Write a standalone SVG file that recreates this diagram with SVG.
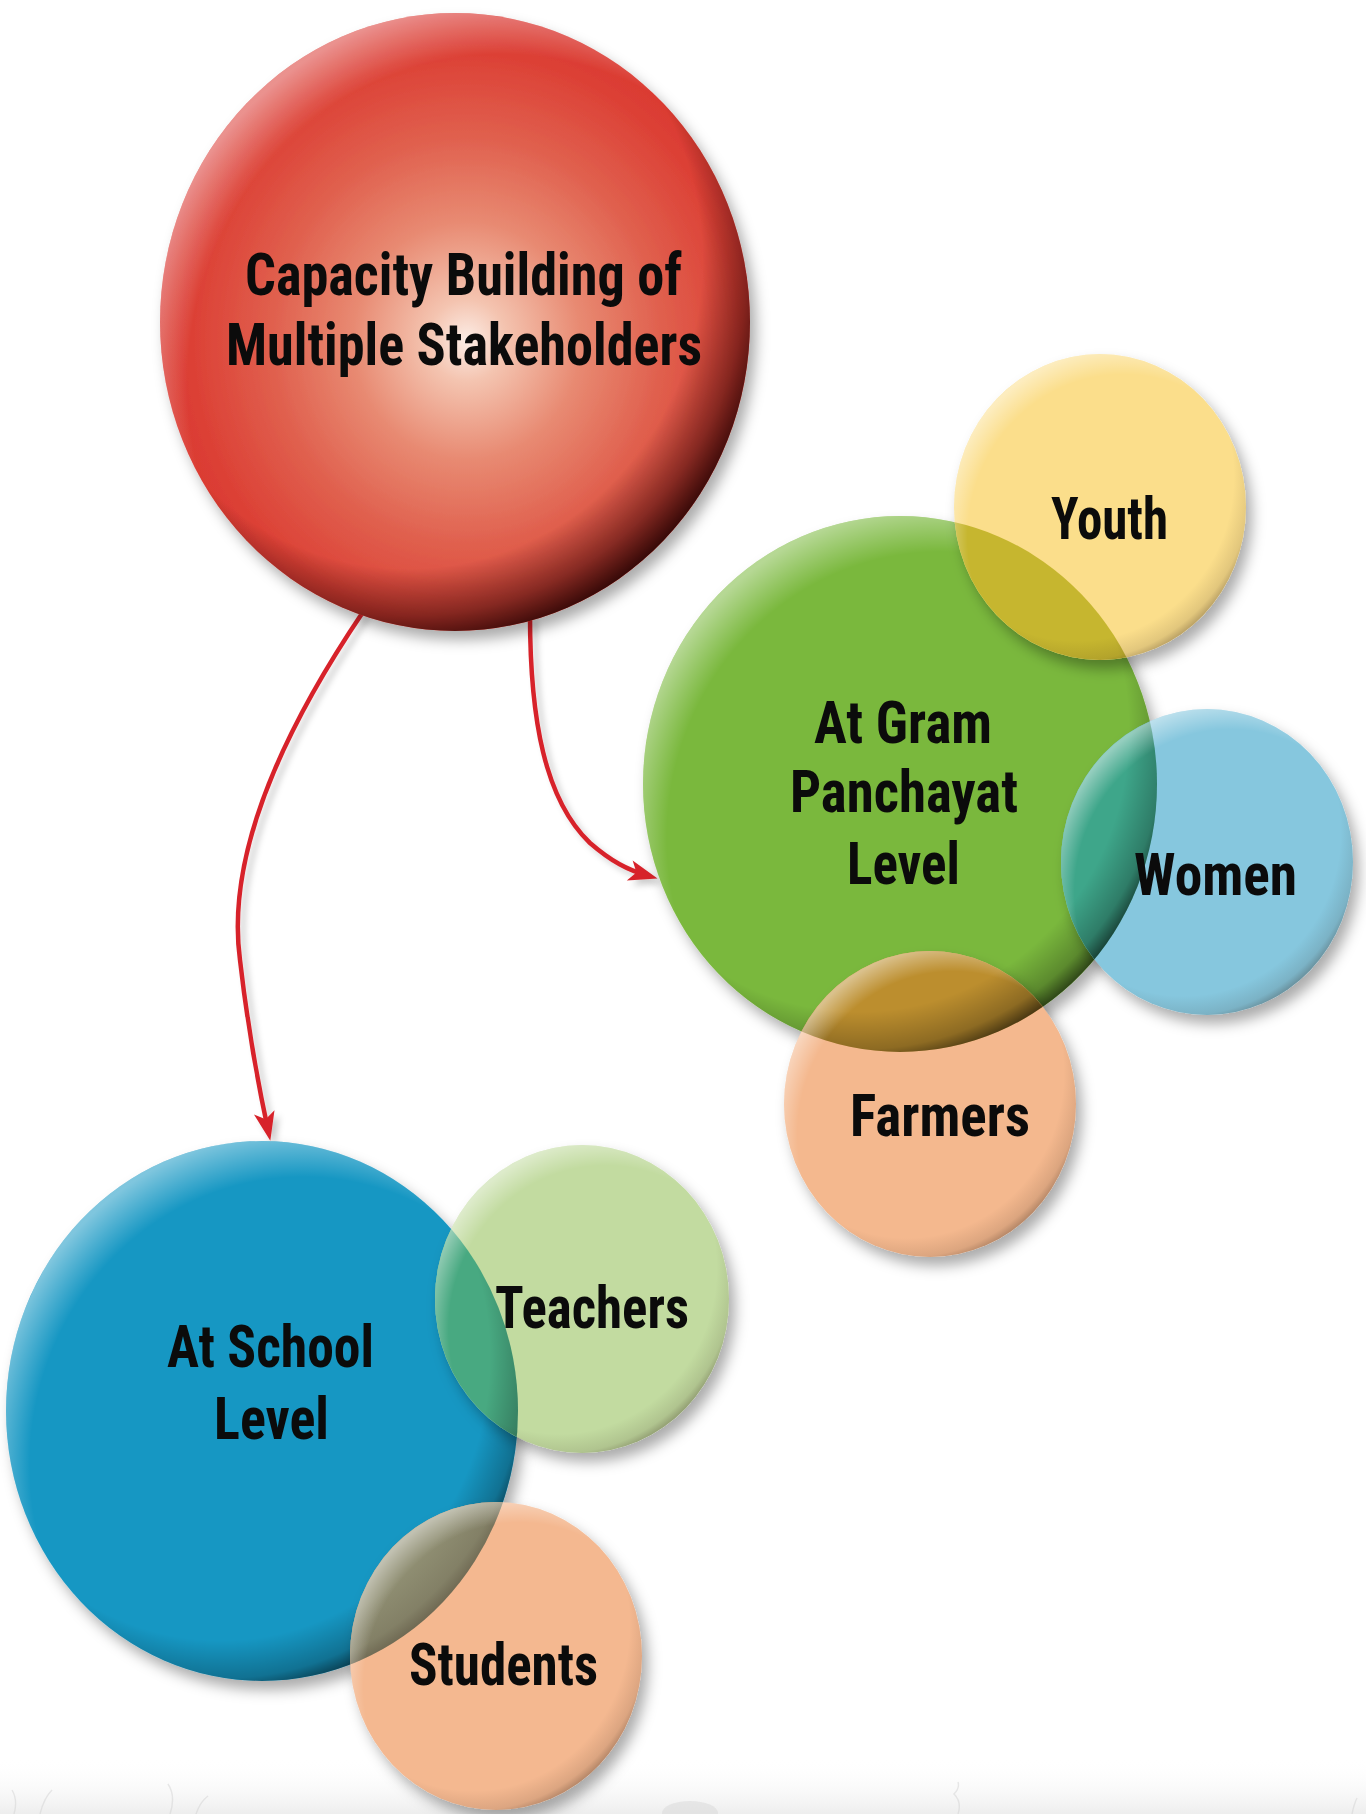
<svg xmlns="http://www.w3.org/2000/svg" width="1366" height="1814" viewBox="0 0 1366 1814">
<defs>
<style>
.lbl{font-family:"Liberation Sans Narrow","Roboto Condensed","DejaVu Sans Condensed","Liberation Sans",Arial,sans-serif;font-weight:bold;font-stretch:condensed;font-size:60px;fill:#0b0b0b}
.conn{fill:none;stroke:#D7232B;stroke-width:4.5;marker-end:url(#arrow)}
.sh{filter:url(#sh)}
.rimD{fill:url(#rimDark)}
.rimS{fill:url(#rimSoft)}
.rimL{fill:url(#rimLight)}
.grass{fill:none;stroke:#cfcfcf;stroke-width:1.4;opacity:0.45}
</style>
<filter id="sh" x="-20%" y="-20%" width="150%" height="150%">
<feDropShadow dx="6" dy="9" stdDeviation="7" flood-color="#000" flood-opacity="0.33"/>
</filter>
<filter id="lsh" x="-20%" y="-20%" width="150%" height="150%">
<feDropShadow dx="5" dy="5" stdDeviation="3" flood-color="#000" flood-opacity="0.2"/>
</filter>
<marker id="arrow" viewBox="-32 -13 36 26" refX="-8" refY="0" markerWidth="36" markerHeight="26" markerUnits="userSpaceOnUse" orient="auto">
<path d="M3 0 L-26 -10.5 L-19 0 L-26 10.5 Z" fill="#D7232B"/>
</marker>
<radialGradient id="gRed" cx="0.52" cy="0.53" r="0.55">
<stop offset="0" stop-color="#FCEDE6"/>
<stop offset="0.12" stop-color="#F4C4B0"/>
<stop offset="0.35" stop-color="#E88A72"/>
<stop offset="0.6" stop-color="#E0604E"/>
<stop offset="0.85" stop-color="#DC4035"/>
<stop offset="1" stop-color="#D93530"/>
</radialGradient>
<radialGradient id="rimRed" cx="0.42" cy="0.40" r="0.64">
<stop offset="0.78" stop-color="#1a0000" stop-opacity="0"/>
<stop offset="0.9" stop-color="#1a0000" stop-opacity="0.45"/>
<stop offset="1" stop-color="#1a0000" stop-opacity="0.95"/>
</radialGradient>
<radialGradient id="rimDark" cx="0.42" cy="0.40" r="0.64">
<stop offset="0.82" stop-color="#000" stop-opacity="0"/>
<stop offset="0.93" stop-color="#000" stop-opacity="0.25"/>
<stop offset="1" stop-color="#000" stop-opacity="0.75"/>
</radialGradient>
<radialGradient id="rimSoft" cx="0.42" cy="0.40" r="0.64">
<stop offset="0.84" stop-color="#2a1a10" stop-opacity="0"/>
<stop offset="0.94" stop-color="#2a1a10" stop-opacity="0.12"/>
<stop offset="1" stop-color="#2a1a10" stop-opacity="0.4"/>
</radialGradient>
<radialGradient id="rimLight" cx="0.58" cy="0.60" r="0.62">
<stop offset="0.86" stop-color="#fff" stop-opacity="0"/>
<stop offset="1" stop-color="#fff" stop-opacity="0.45"/>
</radialGradient>
<linearGradient id="gGround" x1="0" y1="0" x2="0" y2="1">
<stop offset="0" stop-color="#fff" stop-opacity="0"/>
<stop offset="1" stop-color="#e2e2e2" stop-opacity="0.6"/>
</linearGradient>
<clipPath id="cYouth"><ellipse cx="1100" cy="507" rx="146" ry="153"/></clipPath>
<clipPath id="cWomen"><ellipse cx="1207" cy="862" rx="146" ry="153"/></clipPath>
<clipPath id="cFarmers"><ellipse cx="930" cy="1104" rx="146" ry="153"/></clipPath>
<clipPath id="cTeachers"><ellipse cx="582" cy="1299" rx="147" ry="154"/></clipPath>
<clipPath id="cStudents"><ellipse cx="496" cy="1656" rx="146" ry="154"/></clipPath>
</defs>

<rect x="0" y="0" width="1366" height="1814" fill="#ffffff"/>

<g id="ground">
<rect x="0" y="1758" width="1366" height="56" fill="url(#gGround)"/>
<path class="grass" d="M14 1814 Q18 1800 12 1790 M40 1814 Q44 1798 52 1790 M170 1814 Q176 1796 168 1784 M196 1814 Q200 1802 208 1796 M958 1814 Q962 1802 954 1794 Q960 1788 958 1782 M1352 1814 Q1354 1804 1357 1798"/>
<ellipse cx="690" cy="1813" rx="28" ry="12" fill="#d4d4d4" opacity="0.45"/>
</g>

<g id="connectors" filter="url(#lsh)">
<path class="conn" d="M363 612 C290 720 225 850 240 960 C248 1030 259 1088 268 1130"/>
<path class="conn" d="M530 615 C530 720 545 800 590 843 C612 862 628 870 647 875.5"/>
</g>

<g id="n-capacity">
<ellipse class="sh" cx="455" cy="322" rx="295" ry="309" fill="url(#gRed)"/>
<ellipse cx="455" cy="322" rx="295" ry="309" fill="url(#rimRed)"/>
<ellipse class="rimL" cx="455" cy="322" rx="295" ry="309"/>
<text class="lbl" x="245" y="295" textLength="437" lengthAdjust="spacingAndGlyphs">Capacity Building of</text>
<text class="lbl" x="226" y="365" textLength="476" lengthAdjust="spacingAndGlyphs">Multiple Stakeholders</text>
</g>

<g id="n-gram">
<ellipse class="sh" cx="900" cy="784" rx="257" ry="268" fill="#7AB83C"/>
<ellipse class="rimD" cx="900" cy="784" rx="257" ry="268"/>
<ellipse class="rimL" cx="900" cy="784" rx="257" ry="268"/>
<text class="lbl" x="814" y="743" textLength="178" lengthAdjust="spacingAndGlyphs">At Gram</text>
<text class="lbl" x="790" y="812" textLength="228" lengthAdjust="spacingAndGlyphs">Panchayat</text>
<text class="lbl" x="847" y="884" textLength="113" lengthAdjust="spacingAndGlyphs">Level</text>
</g>

<g id="n-school">
<ellipse class="sh" cx="262" cy="1411" rx="256" ry="270" fill="#1897C3"/>
<ellipse class="rimD" cx="262" cy="1411" rx="256" ry="270"/>
<ellipse class="rimL" cx="262" cy="1411" rx="256" ry="270"/>
<text class="lbl" x="167" y="1367" textLength="207" lengthAdjust="spacingAndGlyphs">At School</text>
<text class="lbl" x="214" y="1439" textLength="115" lengthAdjust="spacingAndGlyphs">Level</text>
</g>

<g id="n-youth">
<ellipse class="sh" cx="1100" cy="507" rx="146" ry="153" fill="#FBDE8B"/>
<g clip-path="url(#cYouth)">
<ellipse cx="900" cy="784" rx="257" ry="268" fill="#C6B62F"/>
<ellipse class="rimD" cx="900" cy="784" rx="257" ry="268"/>
</g>
<ellipse class="rimS" cx="1100" cy="507" rx="146" ry="153"/>
<ellipse class="rimL" cx="1100" cy="507" rx="146" ry="153"/>
<text class="lbl" x="1051" y="539" textLength="117" lengthAdjust="spacingAndGlyphs">Youth</text>
</g>

<g id="n-women">
<ellipse class="sh" cx="1207" cy="862" rx="146" ry="153" fill="#86C7DE"/>
<g clip-path="url(#cWomen)">
<ellipse cx="900" cy="784" rx="257" ry="268" fill="#3EA68A"/>
<ellipse class="rimD" cx="900" cy="784" rx="257" ry="268"/>
</g>
<ellipse class="rimS" cx="1207" cy="862" rx="146" ry="153"/>
<ellipse class="rimL" cx="1207" cy="862" rx="146" ry="153"/>
<text class="lbl" x="1134" y="895" textLength="163" lengthAdjust="spacingAndGlyphs">Women</text>
</g>

<g id="n-farmers">
<ellipse class="sh" cx="930" cy="1104" rx="146" ry="153" fill="#F4B88E"/>
<g clip-path="url(#cFarmers)">
<ellipse cx="900" cy="784" rx="257" ry="268" fill="#BC8E2E"/>
<ellipse class="rimD" cx="900" cy="784" rx="257" ry="268"/>
</g>
<ellipse class="rimS" cx="930" cy="1104" rx="146" ry="153"/>
<ellipse class="rimL" cx="930" cy="1104" rx="146" ry="153"/>
<text class="lbl" x="850" y="1136" textLength="180" lengthAdjust="spacingAndGlyphs">Farmers</text>
</g>

<g id="n-teachers">
<ellipse class="sh" cx="582" cy="1299" rx="147" ry="154" fill="#C2DBA0"/>
<g clip-path="url(#cTeachers)">
<ellipse cx="262" cy="1411" rx="256" ry="270" fill="#48A981"/>
<ellipse class="rimD" cx="262" cy="1411" rx="256" ry="270"/>
</g>
<ellipse class="rimS" cx="582" cy="1299" rx="147" ry="154"/>
<ellipse class="rimL" cx="582" cy="1299" rx="147" ry="154"/>
<text class="lbl" x="495" y="1328" textLength="194" lengthAdjust="spacingAndGlyphs">Teachers</text>
</g>

<g id="n-students">
<ellipse class="sh" cx="496" cy="1656" rx="146" ry="154" fill="#F4B890"/>
<g clip-path="url(#cStudents)">
<ellipse cx="262" cy="1411" rx="256" ry="270" fill="#8F8E72"/>
<ellipse class="rimS" cx="262" cy="1411" rx="256" ry="270"/>
</g>
<ellipse class="rimS" cx="496" cy="1656" rx="146" ry="154"/>
<ellipse class="rimL" cx="496" cy="1656" rx="146" ry="154"/>
<text class="lbl" x="409" y="1685" textLength="189" lengthAdjust="spacingAndGlyphs">Students</text>
</g>
</svg>
